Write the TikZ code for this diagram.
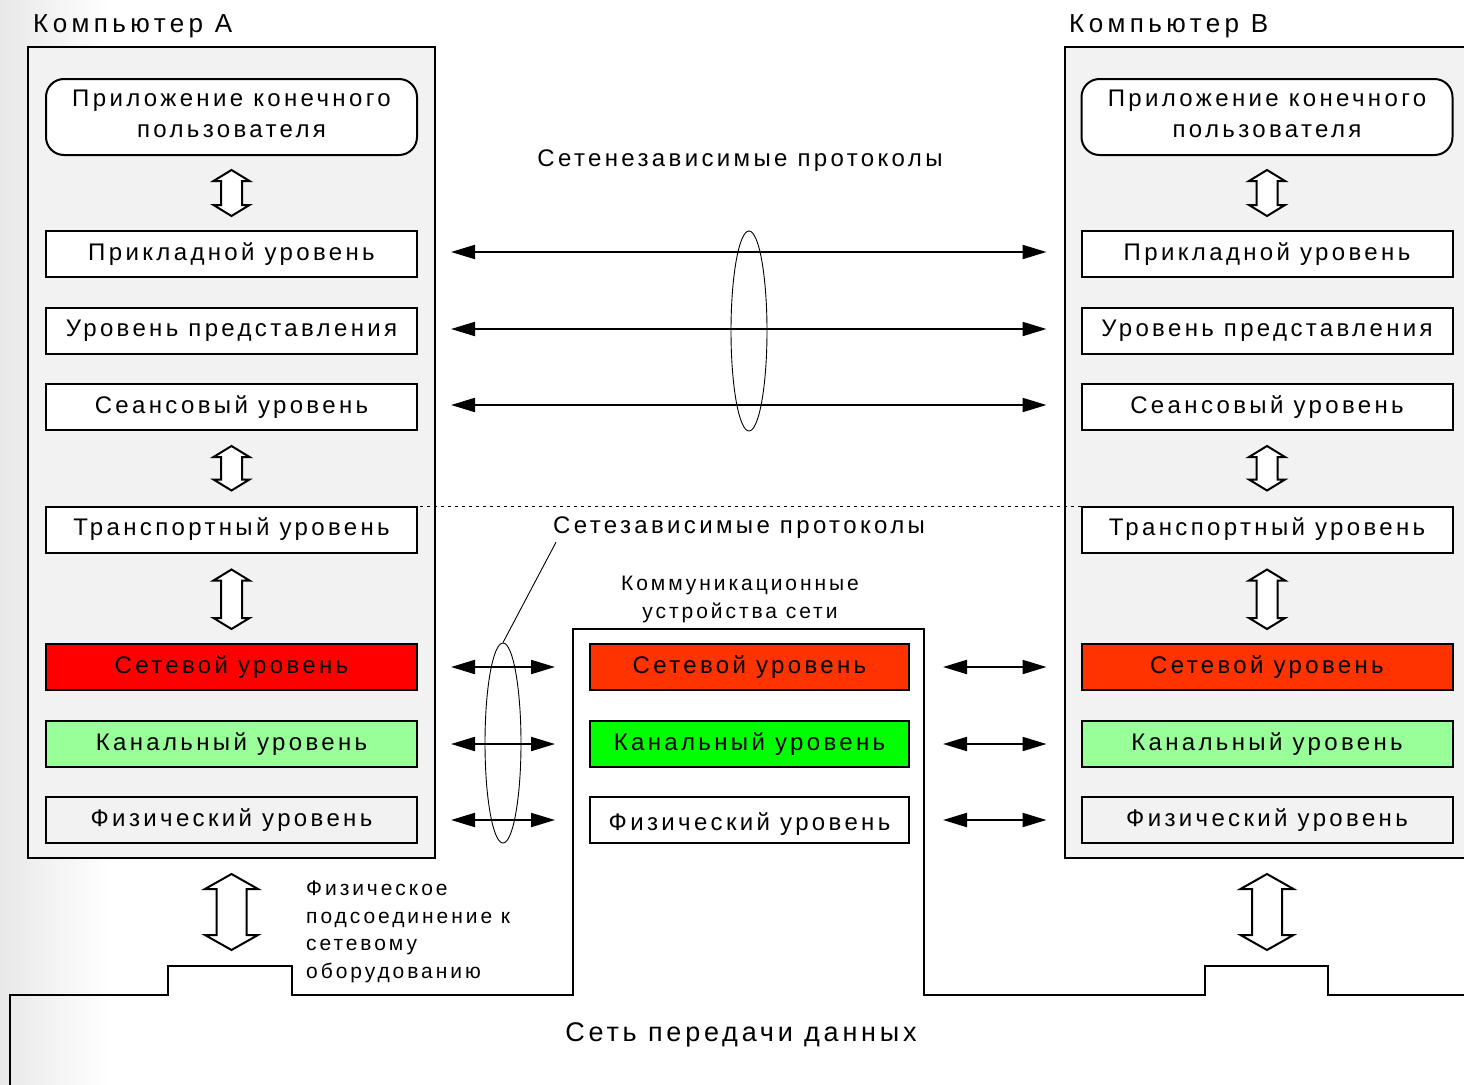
\documentclass[tikz,border=0pt]{standalone}
\usepackage{fontspec}
\setmainfont{Liberation Sans}[LetterSpace=14]
\newfontfamily\titlefont{Liberation Sans}[LetterSpace=17]
\usetikzlibrary{arrows.meta,shapes.geometric,calc}
\definecolor{boxgrey}{HTML}{F2F2F2}
\definecolor{redA}{HTML}{FF0000}
\definecolor{redB}{HTML}{FF3300}
\definecolor{lgreen}{HTML}{99FF99}
\definecolor{brgreen}{HTML}{00FF00}
\newcommand{\hollowarrow}[5]{% #1 top coord, #2 bottom coord, #3 head half width, #4 shaft half width, #5 head length
  \draw[hollow] let \p1=(#1), \p2=(#2) in
  (\x1,\y1) -- ({\x1+#3pt},{\y1-#5pt}) -- ({\x1+#4pt},{\y1-#5pt}) -- ({\x1+#4pt},{\y2+#5pt})
  -- ({\x1+#3pt},{\y2+#5pt}) -- (\x1,\y2) -- ({\x1-#3pt},{\y2+#5pt}) -- ({\x1-#4pt},{\y2+#5pt})
  -- ({\x1-#4pt},{\y1-#5pt}) -- ({\x1-#3pt},{\y1-#5pt}) -- cycle;
}
\begin{document}
\begin{tikzpicture}[x=1pt,y=-1pt,
  layer/.style={draw, line width=2pt, minimum width=371pt, minimum height=46pt, inner sep=0pt,
    fill=white, font=\fontsize{24}{28}\selectfont},
  appbox/.style={layer, rounded corners=18pt, minimum height=76pt,
    label={[inner sep=0pt, yshift=3pt, align=center, font=\fontsize{24}{31}\selectfont]center:Приложение конечного\\пользователя}},
  midlayer/.style={layer, minimum width=319pt},
  outerbox/.style={draw, line width=2pt, fill=boxgrey, inner sep=0pt},
  hollow/.style={draw, line width=2pt, fill=white, line join=miter},
  biarrow/.style={line width=2pt, {Triangle[length=24pt,width=14pt]}-{Triangle[length=24pt,width=14pt]}},
  marker/.style={draw, ellipse, line width=0.9pt, inner sep=0pt, minimum width=36pt, minimum height=200pt},
  bigtext/.style={inner sep=0pt, font=\fontsize{24}{28}\selectfont},
  titletext/.style={inner sep=0pt, font=\titlefont\fontsize{26}{30}\selectfont},
  smalltext/.style={inner sep=0pt, font=\fontsize{21}{27.5}\selectfont}]
\useasboundingbox (0,0) rectangle (1464,1084);
\clip (0,0) rectangle (1464,1084);
\fill[white] (0,0) rectangle (1464,1084);
\shade[left color=black!9, right color=white] (0,0) rectangle (110,1084);

% computer boxes
\node[outerbox, minimum width=407pt, minimum height=811pt] (compA) at (231.5,452.5) {};
\node[outerbox, minimum width=420pt, minimum height=811pt] (compB) at (1275,452.5) {};

% titles
\node[titletext, anchor=base west] (titleA) at (33,32) {Компьютер A};
\node[titletext, anchor=base west] (titleB) at (1069,32) {Компьютер B};

% dashed separator
\draw[dashed, dash pattern=on 3pt off 4pt, line width=0.8pt] (420,506) -- (1082,506);

% layers A
\node[appbox] (appA) at (231.5,117) {};
\node[layer] (prA) at (231.5,254) {Прикладной уровень};
\node[layer] (reA) at (231.5,331) {Уровень представления};
\node[layer] (seA) at (231.5,407) {Сеансовый уровень};
\node[layer] (trA) at (231.5,529.5) {Транспортный уровень};
\node[layer, fill=redA] (neA) at (231.5,667) {Сетевой уровень};
\node[layer, fill=lgreen] (chA) at (231.5,744) {Канальный уровень};
\node[layer, fill=boxgrey] (phA) at (231.5,820) {Физический уровень};

% layers B
\node[appbox] (appB) at (1267,117) {};
\node[layer] (prB) at (1267,254) {Прикладной уровень};
\node[layer] (reB) at (1267,331) {Уровень представления};
\node[layer] (seB) at (1267,407) {Сеансовый уровень};
\node[layer] (trB) at (1267,529.5) {Транспортный уровень};
\node[layer, fill=redB] (neB) at (1267,667) {Сетевой уровень};
\node[layer, fill=lgreen] (chB) at (1267,744) {Канальный уровень};
\node[layer, fill=boxgrey] (phB) at (1267,820) {Физический уровень};

% network outline with communication device box
\coordinate (bumpA) at (231.5,966);
\coordinate (bumpB) at (1267,966);
\draw[line width=2.5pt, line join=miter] (10,1090) -- (10,995) -- (168,995) -- (168,966) -- (292,966) -- (292,995)
  -- (573,995) -- (573,629) -- (924,629) -- (924,995) -- (1205,995) -- (1205,966) -- (1328,966)
  -- (1328,995) -- (1470,995);

% middle layers
\node[midlayer, fill=redB] (neM) at (749.5,667) {Сетевой уровень};
\node[midlayer, fill=brgreen] (chM) at (749.5,744) {Канальный уровень};
\node[midlayer, text height=25.5pt, text depth=5pt] (phM) at (749.5,820) {Физический уровень};

% hollow vertical arrows
\coordinate (a1t) at ([yshift=-14pt]appA.south); \coordinate (a1b) at ([yshift=14pt]prA.north);
\coordinate (a2t) at ([yshift=-15pt]seA.south);  \coordinate (a2b) at ([yshift=15pt]trA.north);
\coordinate (a3t) at ([yshift=-16pt]trA.south);  \coordinate (a3b) at ([yshift=14pt]neA.north);
\coordinate (a4t) at ([yshift=-15pt]compA.south); \coordinate (a4b) at ([yshift=16pt]bumpA);
\hollowarrow{a1t}{a1b}{18}{10.5}{11}
\hollowarrow{a2t}{a2b}{18}{10.5}{11}
\hollowarrow{a3t}{a3b}{18}{10.5}{11}
\hollowarrow{a4t}{a4b}{26.5}{15}{15}
\coordinate (b1t) at ([yshift=-14pt]appB.south); \coordinate (b1b) at ([yshift=14pt]prB.north);
\coordinate (b2t) at ([yshift=-15pt]seB.south);  \coordinate (b2b) at ([yshift=15pt]trB.north);
\coordinate (b3t) at ([yshift=-16pt]trB.south);  \coordinate (b3b) at ([yshift=14pt]neB.north);
\coordinate (b4t) at ([yshift=-15pt]compB.south -| bumpB); \coordinate (b4b) at ([yshift=16pt]bumpB);
\hollowarrow{b1t}{b1b}{18}{10.5}{11}
\hollowarrow{b2t}{b2b}{18}{10.5}{11}
\hollowarrow{b3t}{b3b}{18}{10.5}{11}
\hollowarrow{b4t}{b4b}{26.5}{15}{15}

% network-independent protocols
\draw[biarrow] ([xshift=33pt,yshift=2pt]prA.east) -- ([xshift=-34pt,yshift=2pt]prB.west);
\draw[biarrow] ([xshift=33pt,yshift=2pt]reA.east) -- ([xshift=-34pt,yshift=2pt]reB.west);
\draw[biarrow] ([xshift=33pt,yshift=2pt]seA.east) -- ([xshift=-34pt,yshift=2pt]seB.west);
\node[marker] (ellU) at (749,331) {};
\node[bigtext, anchor=base] (lblIndep) at (740,166) {Сетенезависимые протоколы};

% network-dependent protocols
\draw[biarrow] ([xshift=33pt]neA.east) -- ([xshift=-34pt]neM.west);
\draw[biarrow] ([xshift=33pt]chA.east) -- ([xshift=-34pt]chM.west);
\draw[biarrow] ([xshift=33pt]phA.east) -- ([xshift=-34pt]phM.west);
\draw[biarrow] ([xshift=33pt]neM.east) -- ([xshift=-34pt]neB.west);
\draw[biarrow] ([xshift=33pt]chM.east) -- ([xshift=-34pt]chB.west);
\draw[biarrow] ([xshift=33pt]phM.east) -- ([xshift=-34pt]phB.west);
\node[marker] (ellL) at (503,743) {};
\node[bigtext, anchor=base west] (lblDep) at (553,533) {Сетезависимые протоколы};
\draw[line width=0.9pt] (ellL.north) -- ([xshift=3pt,yshift=-4pt]lblDep.south west);

% other labels
\node[smalltext, align=center, anchor=base] (lblComm) at (740,618) {Коммуникационные\\устройства сети};
\node[smalltext, align=left, anchor=north west] (lblPhys) at (306,881) {Физическое\\подсоединение к\\сетевому\\оборудованию};
\node[inner sep=0pt, font=\fontsize{27}{30}\selectfont, anchor=base] (lblNet) at (741,1041) {Сеть передачи данных};
\end{tikzpicture}
\end{document}
